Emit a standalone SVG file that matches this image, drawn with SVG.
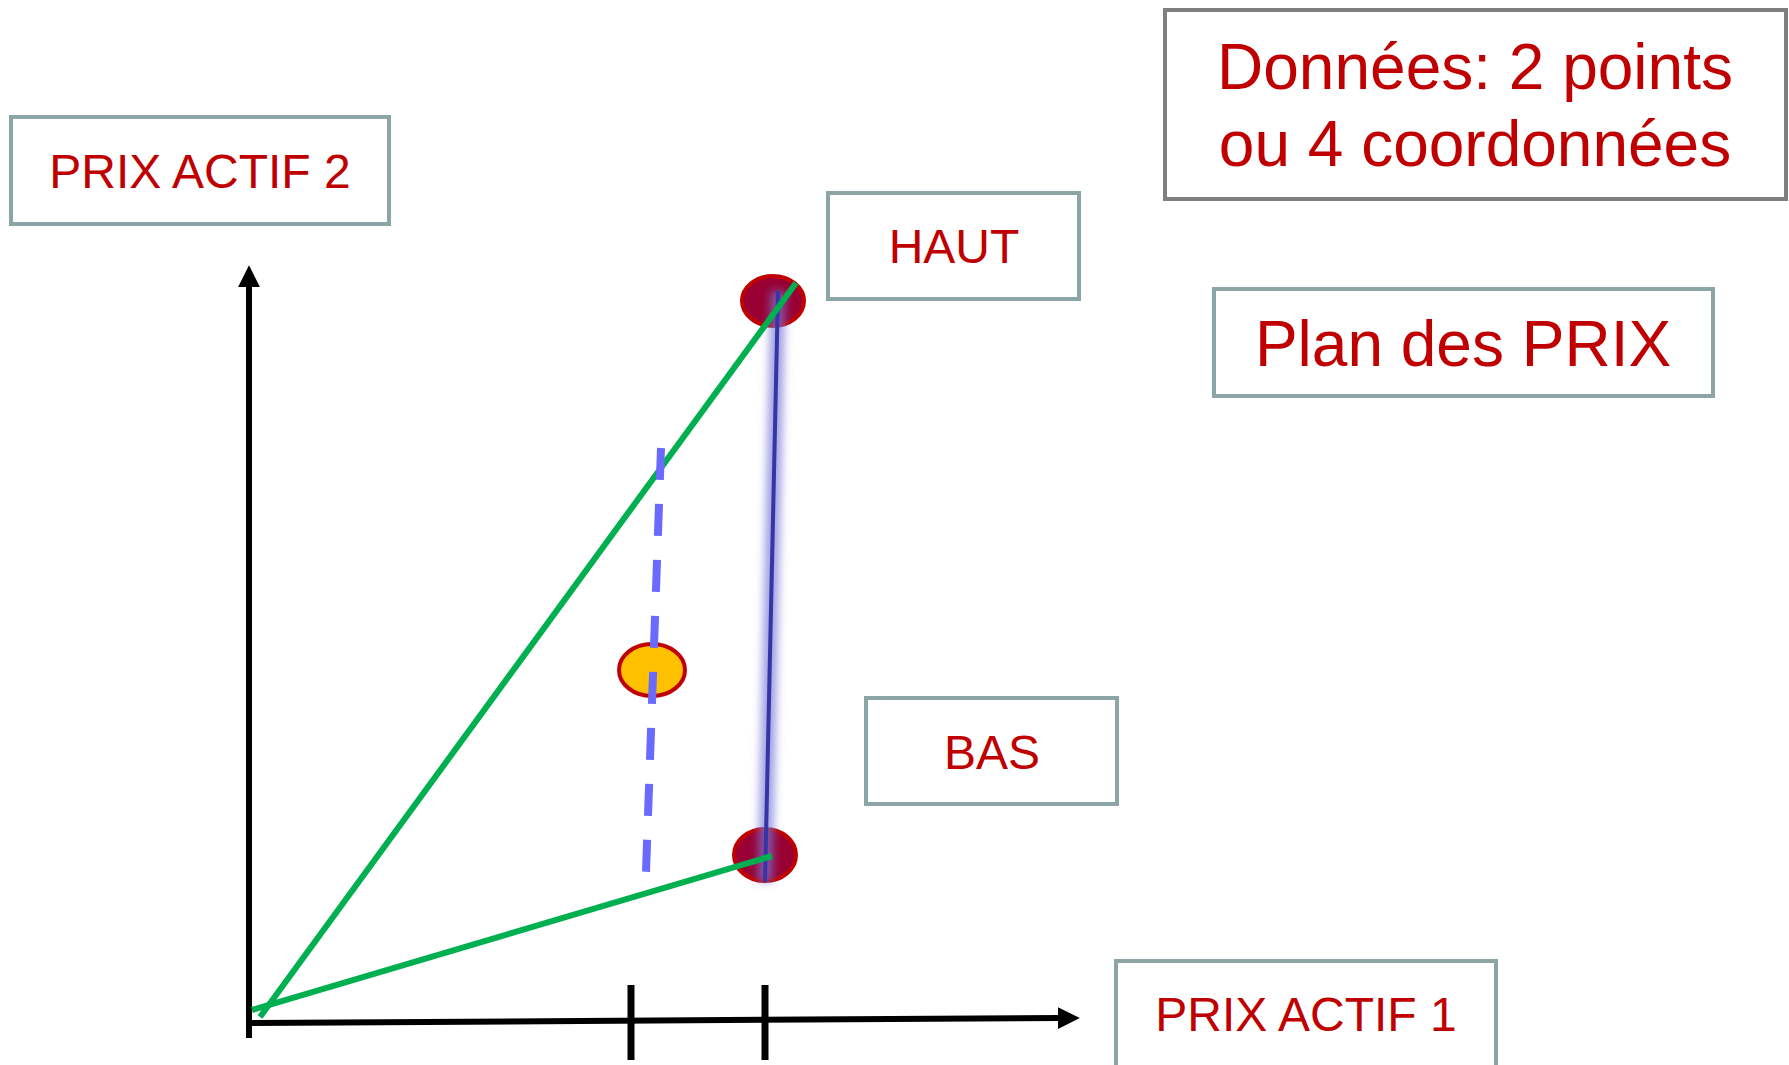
<svg xmlns="http://www.w3.org/2000/svg" width="1789" height="1065" viewBox="0 0 1789 1065">
  <defs>
    <style>
      .box { fill: #ffffff; stroke: #8ca6a8; stroke-width: 4; }
      .boxg { fill: #ffffff; stroke: #7f7f7f; stroke-width: 4; }
      .lbl { font-family: "Liberation Sans", Arial, sans-serif; fill: #c00000; text-anchor: middle; }
      .s47 { font-size: 48px; }
      .s64 { font-size: 64px; }
      .pt { fill: #990033; stroke: #c00000; stroke-width: 4; }
      .mid { fill: #ffc000; stroke: #c00000; stroke-width: 4; }
      .axis { stroke: #000000; stroke-width: 6; fill: none; }
      .tick { stroke: #000000; stroke-width: 7; }
      .green { stroke: #00b050; stroke-width: 6; fill: none; }
    </style>
    <marker id="arrow" markerUnits="userSpaceOnUse" markerWidth="22" markerHeight="22" viewBox="0 0 20 20" refX="2" refY="10" orient="auto">
      <path d="M0,0 L20,10 L0,20 Z" fill="#000000"/>
    </marker>
    <filter id="glow" x="-2" y="-0.1" width="5" height="1.2">
      <feGaussianBlur stdDeviation="4"/>
    </filter>
  </defs>
  <rect width="1789" height="1065" fill="#ffffff"/>

  <g id="connectors">
    <line class="axis" x1="249" y1="1038" x2="249" y2="285" marker-end="url(#arrow)"/>
    <line class="axis" x1="249" y1="1023" x2="1060" y2="1018" marker-end="url(#arrow)"/>
    <line class="tick" x1="631" y1="985" x2="631" y2="1060"/>
    <line class="tick" x1="765" y1="985" x2="765" y2="1060"/>
  </g>

  <g id="node-haut-point">
    <ellipse class="pt" cx="773" cy="301" rx="31" ry="25"/>
  </g>
  <g id="node-bas-point">
    <ellipse class="pt" cx="765" cy="855" rx="31" ry="26"/>
  </g>
  <g id="node-mid-point">
    <ellipse class="mid" cx="652" cy="670" rx="33" ry="26"/>
  </g>

  <g id="connectors-lines">
    <line x1="778" y1="291" x2="765" y2="882" stroke="#7878d8" stroke-width="15" stroke-opacity="0.7" filter="url(#glow)"/>
    <line x1="778" y1="291" x2="765" y2="882" stroke="#3535a5" stroke-width="4"/>
    <line class="green" x1="260" y1="1017" x2="796" y2="283"/>
    <line class="green" x1="252" y1="1010" x2="772" y2="856"/>
    <line x1="661" y1="448" x2="646" y2="872" stroke="#6a6aff" stroke-width="8" stroke-dasharray="32 24"/>
  </g>

  <g id="node-prix-actif-2">
    <rect class="box" x="11" y="117" width="378" height="107"/>
    <text class="lbl s47" x="200" y="188">PRIX ACTIF 2</text>
  </g>
  <g id="node-donnees">
    <rect class="boxg" x="1165" y="10" width="621" height="189"/>
    <text class="lbl s64" x="1475" y="89">Données: 2 points</text>
    <text class="lbl s64" x="1475" y="166">ou 4 coordonnées</text>
  </g>
  <g id="node-haut">
    <rect class="box" x="828" y="193" width="251" height="106"/>
    <text class="lbl s47" x="954" y="263">HAUT</text>
  </g>
  <g id="node-plan">
    <rect class="box" x="1214" y="289" width="499" height="107"/>
    <text class="lbl s64" x="1463" y="366">Plan des PRIX</text>
  </g>
  <g id="node-bas">
    <rect class="box" x="866" y="698" width="251" height="106"/>
    <text class="lbl s47" x="992" y="769">BAS</text>
  </g>
  <g id="node-prix-actif-1">
    <rect class="box" x="1116" y="961" width="380" height="107"/>
    <text class="lbl s47" x="1306" y="1031">PRIX ACTIF 1</text>
  </g>
</svg>
